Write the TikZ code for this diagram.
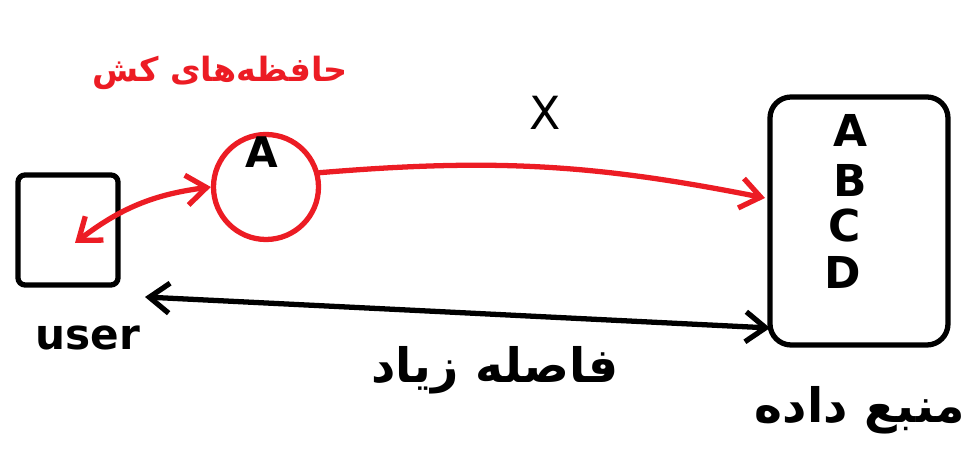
\documentclass[tikz,border=0pt]{standalone}
\usepackage{fontspec}
\setmainfont{DejaVu Sans}
\newfontfamily\arabicfont[Script=Arabic]{DejaVu Sans}
\TeXXeTstate=1
\usetikzlibrary{arrows.meta}
\definecolor{penred}{HTML}{EC1C24}

\begin{document}
\begin{tikzpicture}[ink/.style={line width=3pt,line cap=round,line join=round},box/.style={ink,draw=black,rounded corners=4pt},lbl/.style={font=\fontsize{24}{28}\selectfont\bfseries},big/.style={font=\fontsize{25}{28}\selectfont\bfseries},fa/.style={font=\arabicfont\bfseries\fontsize{27}{32}\selectfont},tip/.style={{Straight Barb[length=4mm,width=6mm]}-{Straight Barb[length=4mm,width=6mm]}}]
\useasboundingbox (0,0) rectangle (19.5,9.36);
% user and data source
\node[box,minimum width=2cm,minimum height=2.2cm] (user) at (1.36,4.76) {};
\node[lbl] (userlbl) at (1.76,2.6) {user};
\node[box,rounded corners=12pt,minimum width=3.56cm,minimum height=4.96cm] (data) at (17.18,4.94) {};
\node[big] (la) at (17.0,6.76) {A};
\node[big] (lb) at (17.0,5.76) {B};
\node[big] (lc) at (16.9,4.84) {C};
\node[big] (ld) at (16.86,3.92) {D};
\node[fa] (datalbl) at (17.2,1.16) {\beginR منبع داده\endR};
% cache
\node[ink,draw=penred,circle,minimum size=2.1cm] (cache) at (5.32,5.62) {};
\node[lbl] (ca) at (5.24,6.32) {A};
\node[fa,text=penred,font=\arabicfont\bfseries\fontsize{19}{24}\selectfont] (cachelbl) at (4.4,7.9) {\beginR حافظه‌های کش\endR};
\node[font=\fontsize{26}{30}\selectfont] (miss) at (10.9,7.1) {X};
% connectors
\coordinate (uin) at (1.5,4.5);
\coordinate (dhit) at (15.3,5.4);
\draw[ink,tip,draw=penred] (uin) to[bend left=15] (cache.west);
\draw[ink,-{Straight Barb[length=4mm,width=6mm]},draw=penred] (cache.15) to[bend left=8] (dhit);
\coordinate (fl) at (2.9,3.42);
\coordinate (fr) at (15.4,2.8);
\draw[ink,tip] (fl)--(fr);
\node[fa] (farlbl) at (9.9,1.96) {\beginR فاصله زیاد\endR};
\end{tikzpicture}
\end{document}
